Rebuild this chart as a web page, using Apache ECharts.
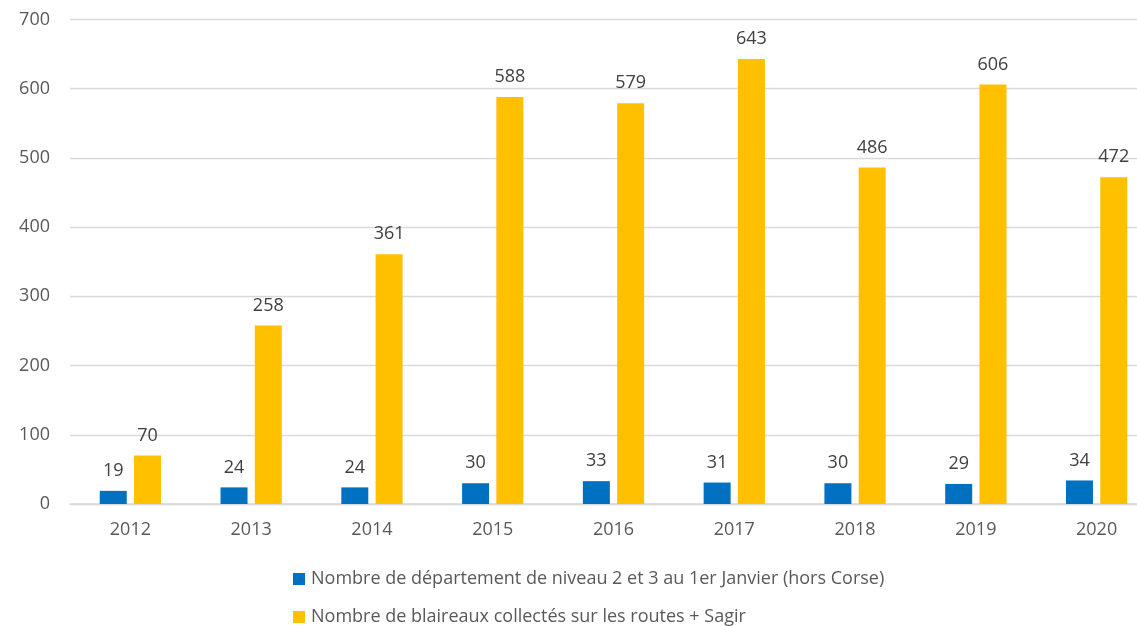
<!DOCTYPE html>
<html><head><meta charset="utf-8">
<script src="https://cdn.jsdelivr.net/npm/echarts@6/dist/echarts.min.js"></script>
<style>html,body{margin:0;padding:0;background:#fff;overflow:hidden}#c{width:1157px;height:626px}</style>
</head><body><div id="c"></div>
<script>
var categories = ['2012','2013','2014','2015','2016','2017','2018','2019','2020'];
var departements = [19,24,24,30,33,31,30,29,34];
var blaireaux = [70,258,361,588,579,643,486,606,472];
var seriesNames = ['Nombre de département de niveau 2 et 3 au 1er Janvier (hors Corse)','Nombre de blaireaux collectés sur les routes + Sagir'];
var FONT = 'Open Sans';
var FS = 18;
var chart = echarts.init(document.getElementById('c'));
var lbl = {show:true, position:'top', distance:11, color:'#404040', fontSize:FS, fontFamily:FONT};
chart.setOption({
  animation:false,
  grid:{left:70, top:19.5, width:1087, height:484.5, containLabel:false},
  xAxis:{type:'category', data:categories,
    axisLine:{lineStyle:{color:'#d9d9d9', width:1.5}}, axisTick:{show:false},
    axisLabel:{color:'#595959', fontSize:FS, fontFamily:FONT, margin:17}},
  yAxis:{type:'value', min:0, max:700, interval:100,
    axisLine:{show:false}, axisTick:{show:false},
    splitLine:{lineStyle:{color:'#d9d9d9', width:1.3}},
    axisLabel:{color:'#595959', fontSize:FS, fontFamily:FONT, margin:20}},
  legend:{orient:'vertical', left:293, top:570, height:80, padding:0, itemGap:20, itemWidth:12, itemHeight:12,
    icon:'rect', textStyle:{color:'#595959', fontSize:FS, fontFamily:FONT, padding:[0,0,0,1]},
    data:seriesNames},
  series:[
    {name:seriesNames[0], type:'bar', data:departements, barWidth:27, barGap:'27%',
     itemStyle:{color:'#0070C0'}, label:lbl},
    {name:seriesNames[1], type:'bar', data:blaireaux, barWidth:27, barGap:'27%',
     itemStyle:{color:'#FFC000'}, label:lbl}
  ]
});
</script></body></html>
